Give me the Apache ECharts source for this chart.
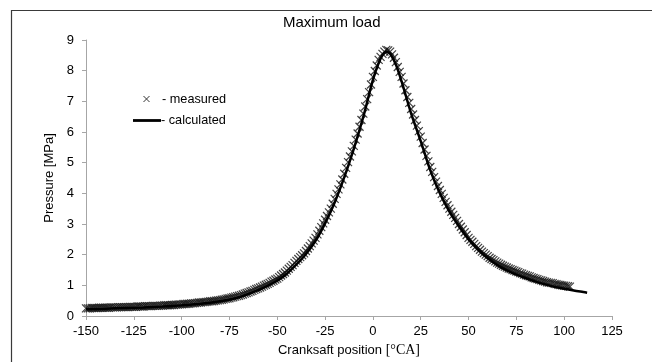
<!DOCTYPE html>
<html>
<head>
<meta charset="utf-8">
<script src="https://cdn.jsdelivr.net/npm/echarts@6/dist/echarts.min.js"></script>
<style>
  html, body { margin: 0; padding: 0; background: #fff; }
  #chart { width: 652px; height: 362px; }
</style>
</head>
<body>
<div id="chart"></div>
<script>
// crank angle [deg] and pressure [MPa]
const measuredAngle = [
  -150, -149, -148, -147, -146, -145, -144, -143, -142, -141, -140, -139, -138, -137, -136, -135, -134, -133, -132, -131,
  -130, -129, -128, -127, -126, -125, -124, -123, -122, -121, -120, -119, -118, -117, -116, -115, -114, -113, -112, -111,
  -110, -109, -108, -107, -106, -105, -104, -103, -102, -101, -100, -99, -98, -97, -96, -95, -94, -93, -92, -91,
  -90, -89, -88, -87, -86, -85, -84, -83, -82, -81, -80, -79, -78, -77, -76, -75, -74, -73, -72, -71,
  -70, -69, -68, -67, -66, -65, -64, -63, -62, -61, -60, -59, -58, -57, -56, -55, -54, -53, -52, -51,
  -50, -49, -48, -47, -46, -45, -44, -43, -42, -41, -40, -39, -38, -37, -36, -35, -34, -33, -32, -31,
  -30, -29, -28, -27, -26, -25, -24, -23, -22, -21, -20, -19, -18, -17, -16, -15, -14, -13, -12, -11,
  -10, -9, -8, -7, -6, -5, -4, -3, -2, -1, 0, 1, 2, 3, 4, 5, 6, 7, 8, 9,
  10, 11, 12, 13, 14, 15, 16, 17, 18, 19, 20, 21, 22, 23, 24, 25, 26, 27, 28, 29,
  30, 31, 32, 33, 34, 35, 36, 37, 38, 39, 40, 41, 42, 43, 44, 45, 46, 47, 48, 49,
  50, 51, 52, 53, 54, 55, 56, 57, 58, 59, 60, 61, 62, 63, 64, 65, 66, 67, 68, 69,
  70, 71, 72, 73, 74, 75, 76, 77, 78, 79, 80, 81, 82, 83, 84, 85, 86, 87, 88, 89,
  90, 91, 92, 93, 94, 95, 96, 97, 98, 99, 100, 101, 102, 103
];
const measuredPressure = [
  0.25, 0.25, 0.25, 0.26, 0.26, 0.26, 0.26, 0.27, 0.27, 0.27, 0.27, 0.27, 0.27, 0.28, 0.28, 0.28, 0.28, 0.29, 0.29, 0.29,
  0.29, 0.29, 0.29, 0.30, 0.30, 0.30, 0.30, 0.31, 0.31, 0.31, 0.31, 0.32, 0.32, 0.32, 0.32, 0.33, 0.33, 0.33, 0.33, 0.34,
  0.34, 0.35, 0.35, 0.35, 0.35, 0.36, 0.36, 0.37, 0.37, 0.38, 0.38, 0.39, 0.39, 0.40, 0.40, 0.41, 0.41, 0.42, 0.43, 0.44,
  0.44, 0.45, 0.45, 0.46, 0.47, 0.48, 0.48, 0.49, 0.50, 0.51, 0.52, 0.53, 0.54, 0.56, 0.57, 0.58, 0.60, 0.61, 0.63, 0.65,
  0.66, 0.68, 0.70, 0.73, 0.75, 0.77, 0.80, 0.82, 0.85, 0.88, 0.90, 0.93, 0.96, 0.99, 1.02, 1.05, 1.08, 1.12, 1.15, 1.19,
  1.22, 1.27, 1.32, 1.37, 1.42, 1.48, 1.54, 1.60, 1.66, 1.73, 1.80, 1.86, 1.92, 1.98, 2.04, 2.12, 2.20, 2.28, 2.37, 2.46,
  2.55, 2.66, 2.78, 2.90, 3.02, 3.14, 3.26, 3.38, 3.50, 3.66, 3.82, 3.98, 4.13, 4.29, 4.45, 4.64, 4.83, 5.02, 5.20, 5.37,
  5.55, 5.75, 5.95, 6.17, 6.39, 6.60, 6.83, 7.07, 7.30, 7.55, 7.80, 7.99, 8.17, 8.35, 8.45, 8.55, 8.62, 8.68, 8.66, 8.62,
  8.53, 8.42, 8.28, 8.12, 7.96, 7.80, 7.58, 7.36, 7.14, 6.95, 6.75, 6.57, 6.39, 6.21, 6.03, 5.85, 5.64, 5.43, 5.22, 5.04,
  4.86, 4.70, 4.53, 4.38, 4.24, 4.11, 3.98, 3.85, 3.72, 3.61, 3.50, 3.40, 3.30, 3.20, 3.10, 3.00, 2.91, 2.82, 2.73, 2.64,
  2.55, 2.48, 2.42, 2.35, 2.28, 2.22, 2.16, 2.10, 2.05, 2.00, 1.95, 1.90, 1.86, 1.82, 1.78, 1.74, 1.71, 1.67, 1.64, 1.61,
  1.58, 1.55, 1.53, 1.50, 1.48, 1.45, 1.43, 1.40, 1.38, 1.35, 1.33, 1.31, 1.29, 1.26, 1.24, 1.22, 1.20, 1.18, 1.16, 1.14,
  1.12, 1.10, 1.09, 1.08, 1.07, 1.05, 1.04, 1.02, 1.01, 1.00, 0.99, 0.98, 0.97, 0.96
];
const calcAngle = [
  -150, -140, -130, -120, -110, -100, -90, -80, -70, -60, -55, -50, -45, -40, -35, -30,
  -25, -20, -15, -10, -5, 0, 3, 5, 7, 9, 12, 15, 20, 25, 30, 35,
  40, 45, 50, 55, 60, 65, 70, 75, 80, 85, 90, 95, 100, 105, 110, 112
];
const calcPressure = [
  0.22, 0.24, 0.26, 0.28, 0.31, 0.35, 0.40, 0.48, 0.61, 0.84, 0.98, 1.15, 1.38, 1.68, 2.02, 2.45,
  3.02, 3.70, 4.52, 5.45, 6.50, 7.70, 8.25, 8.50, 8.62, 8.55, 8.20, 7.65, 6.60, 5.70, 4.75, 4.00,
  3.40, 2.92, 2.50, 2.16, 1.88, 1.66, 1.49, 1.35, 1.23, 1.12, 1.03, 0.95, 0.89, 0.83, 0.78, 0.76
];
const xTicks = { min: -150, max: 125, step: 25 };
const yTicks = { min: 0, max: 9, step: 1 };

const font = "'Liberation Sans', Arial, sans-serif";
const axisGrey = '#a6a6a6';
const crossPath = 'path://M0,0L10,10M10,0L0,10';

const chart = echarts.init(document.getElementById('chart'), null, { renderer: 'canvas' });

const option = {
  backgroundColor: '#fff',
  animation: false,
  title: {
    text: 'Maximum load',
    left: 283,
    top: 15,
    padding: 0,
    textStyle: { fontFamily: font, fontSize: 15, fontWeight: 'normal', color: '#000' }
  },
  grid: { left: 86, right: 40, top: 40, bottom: 40 },
  xAxis: {
    type: 'value',
    min: xTicks.min,
    max: xTicks.max,
    interval: xTicks.step,
    name: '{a|Cranksaft position }{b|[°CA]}',
    nameLocation: 'middle',
    nameGap: 27,
    nameTextStyle: {
      rich: {
        a: { fontFamily: font, fontSize: 13, color: '#000' },
        b: { fontFamily: "'Liberation Serif', 'Times New Roman', serif", fontSize: 14, color: '#000' }
      }
    },
    axisLine: { onZero: false, lineStyle: { color: axisGrey, width: 1 } },
    axisTick: { show: true, length: 4, lineStyle: { color: axisGrey } },
    axisLabel: { fontFamily: font, fontSize: 13, color: '#000', margin: 9 },
    splitLine: { show: false }
  },
  yAxis: {
    type: 'value',
    min: yTicks.min,
    max: yTicks.max,
    interval: yTicks.step,
    name: 'Pressure [MPa]',
    nameLocation: 'middle',
    nameGap: 23,
    nameTextStyle: { fontFamily: font, fontSize: 13, color: '#000' },
    axisLine: { show: true, onZero: false, lineStyle: { color: axisGrey, width: 1 } },
    axisTick: { show: true, length: 4, lineStyle: { color: axisGrey } },
    axisLabel: { fontFamily: font, fontSize: 13, color: '#000', margin: 12 },
    splitLine: { show: false }
  },
  series: [
    {
      name: 'measured',
      type: 'scatter',
      symbol: crossPath,
      symbolSize: 8,
      itemStyle: { color: 'transparent', borderColor: '#111', borderWidth: 1.2 },
      data: measuredAngle.map((a, i) => [a, measuredPressure[i]]),
      z: 2
    },
    {
      name: 'calculated',
      type: 'line',
      smooth: 0.3,
      showSymbol: false,
      lineStyle: { color: '#000', width: 2.5 },
      data: calcAngle.map((a, i) => [a, calcPressure[i]]),
      z: 3
    }
  ],
  graphic: [
    // outer frame
    {
      type: 'rect',
      shape: { x: 11.5, y: 10.5, width: 700, height: 400 },
      style: { fill: 'none', stroke: '#3a3a3a', lineWidth: 1.2 },
      silent: true
    },
    // legend: measured
    {
      type: 'line',
      shape: { x1: 143.5, y1: 96, x2: 149.5, y2: 102 },
      style: { stroke: '#333', lineWidth: 1 }
    },
    {
      type: 'line',
      shape: { x1: 149.5, y1: 96, x2: 143.5, y2: 102 },
      style: { stroke: '#333', lineWidth: 1 }
    },
    {
      type: 'text',
      x: 162, y: 99,
      style: { text: '- measured', font: '12.7px ' + font, fill: '#000', verticalAlign: 'middle' }
    },
    // legend: calculated
    {
      type: 'line',
      shape: { x1: 133, y1: 120.5, x2: 161, y2: 120.5 },
      style: { stroke: '#000', lineWidth: 2.8 }
    },
    {
      type: 'text',
      x: 161, y: 120,
      style: { text: '- calculated', font: '12.7px ' + font, fill: '#000', verticalAlign: 'middle' }
    }
  ]
};

chart.setOption(option);
</script>
</body>
</html>
